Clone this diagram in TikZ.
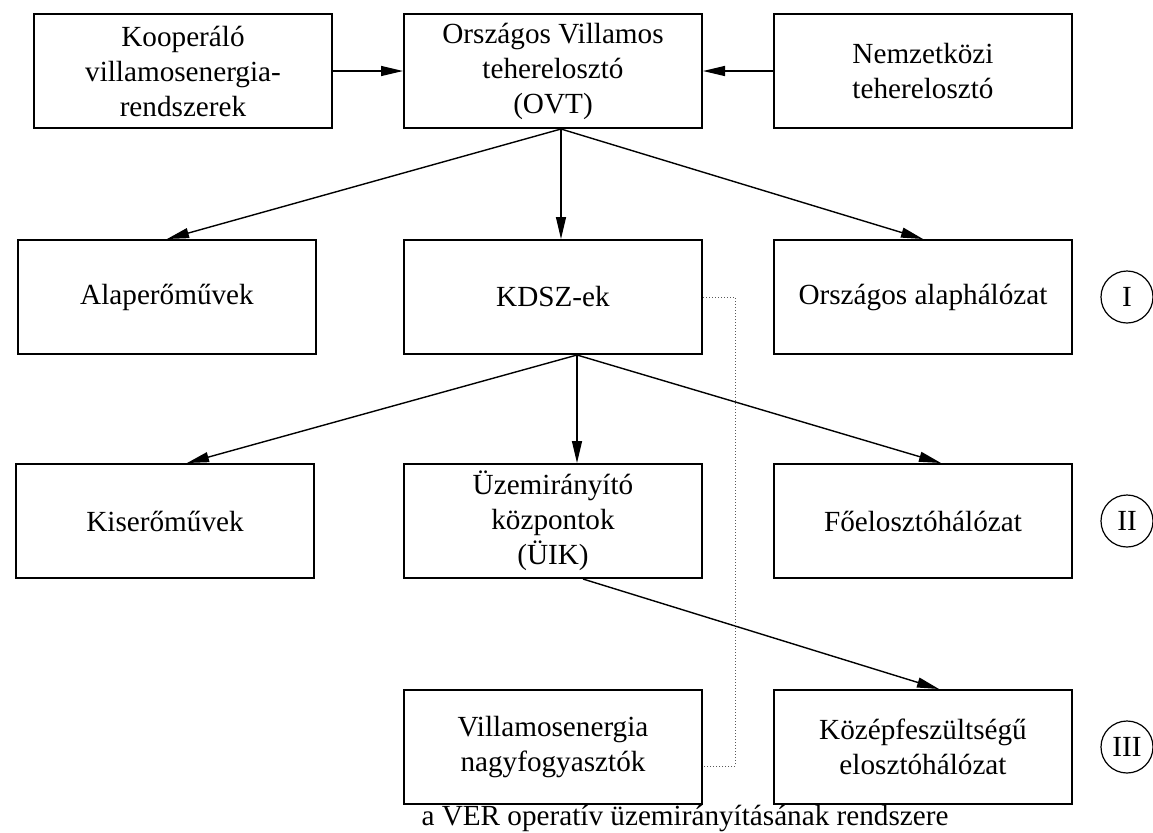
\documentclass[tikz,border=0pt]{standalone}
\usepackage{fontspec}
\setmainfont{Liberation Serif}
\usetikzlibrary{arrows.meta,calc,positioning}
\tikzset{box/.style={draw,line width=1pt,minimum width=149pt,minimum height=57pt,align=center,inner sep=2pt},flow/.style={-{Triangle[length=11pt,width=5pt]},line width=.7pt},link/.style={densely dotted,line width=.5pt,draw=black!65},level/.style={circle,draw,line width=.6pt,minimum size=26pt,inner sep=0pt}}

\begin{document}
\begin{tikzpicture}[x=.5pt,y=-.5pt,every node/.style={font=\fontsize{14.6}{17.5}\selectfont}]
      \useasboundingbox (0,0) rectangle (1153,832);
      % top row
      \node[box](ovt) at (553,71){Országos Villamos\\teherelosztó\\(OVT)};
      \node[box,left=35pt of ovt](koop){Kooperáló\\villamosenergia-\\rendszerek};
      \node[box,right=35pt of ovt](nemzet){Nemzetközi\\teherelosztó};
      % level I
      \node[box,below=55pt of ovt](kdsz){KDSZ-ek};
      \node[box,left=43pt of kdsz](alap){Alaperőművek};
      \node[box,right=35pt of kdsz](orszal){Országos alaphálózat};
      % level II
      \node[box,below=54pt of kdsz](uik){Üzemirányító\\központok\\(ÜIK)};
      \node[box,left=44pt of uik](kis){Kiserőművek};
      \node[box,right=35pt of uik](foel){Főelosztóhálózat};
      % level III
      \node[box,below=55pt of uik](villamos){Villamosenergia\\nagyfogyasztók};
      \node[box,right=35pt of villamos](kozep){Középfeszültségű\\elosztóhálózat};
      \coordinate (rim) at (1127,0);
      \node[level](lvlI) at (rim |- orszal){I};
      \node[level](lvlII) at (rim |- foel){II};
      \node[level](lvlIII) at (rim |- kozep){III};
      \node[anchor=base](caption) at (685,825){a VER operatív üzemirányításának rendszere};
      % connectors
      \draw[flow](koop)--(ovt);\draw[flow](nemzet)--(ovt);
      \coordinate (oout) at ($(ovt.south)+(8,0)$);
      \draw[flow](oout)--(alap.north);
      \draw[flow](oout)--(kdsz.north -| oout);
      \draw[flow](oout)--(orszal.north);
      \coordinate (kout) at ($(kdsz.south)+(24,0)$);
      \draw[flow](kout)--($(kis.north)+(22,0)$);
      \draw[flow](kout)--(uik.north -| kout);
      \draw[flow](kout)--($(foel.north)+(18,0)$);
      \draw[flow]($(uik.south)+(30,0)$)--($(kozep.north)+(16,0)$);
      \draw[link](kdsz.east)--++(32,0)|-($(villamos.east)+(0,19)$);
    \end{tikzpicture}
\end{document}
